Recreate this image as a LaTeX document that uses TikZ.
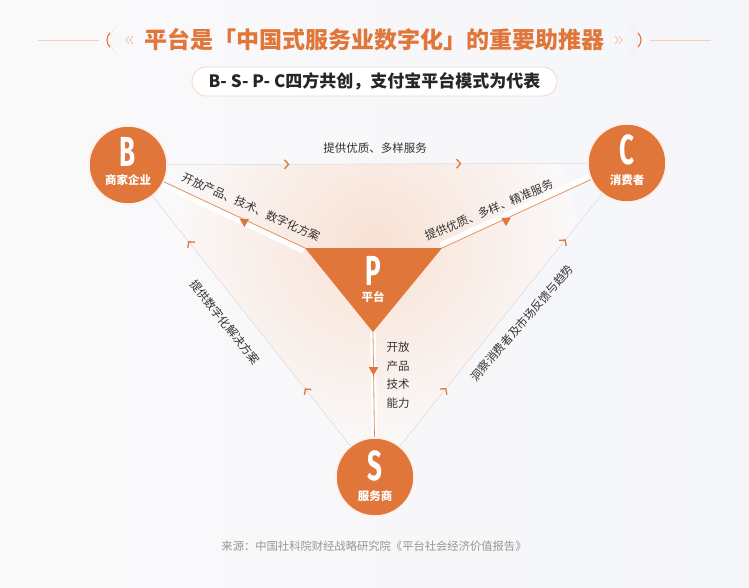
\documentclass[tikz,border=0pt]{standalone}
\usepackage{fontspec}
\setmainfont{Noto Sans CJK SC}
\newfontfamily\letterfont[FakeStretch=0.62]{Fira Sans}
\usetikzlibrary{shapes.geometric,decorations.markings,arrows.meta}
\pgfdeclarelayer{back}
\pgfsetlayers{back,main}
\definecolor{accent}{RGB}{224,118,58}
\definecolor{inktext}{RGB}{51,51,51}
\definecolor{srcgray}{RGB}{150,150,150}
\definecolor{thinline}{RGB}{226,223,224}
\definecolor{bgleft}{RGB}{250,249,250}
\definecolor{bgright}{RGB}{245,246,250}
\tikzset{
  chevtip/.tip={Straight Barb[length=4pt,width=9pt,line width=1.3pt,color=accent]},
  party/.style={circle, fill=accent, draw=accent!12, line width=1.5pt, minimum size=78pt, inner sep=0pt},
  letter/.style={text=white, font=\letterfont\bfseries\fontsize{42}{42}\selectfont, inner sep=0pt},
  role/.style={text=white, font=\bfseries\fontsize{11.5}{12}\selectfont, inner sep=0pt},
  lbl/.style={text=inktext, font=\fontsize{11.5}{13}\selectfont, inner sep=1pt},
  title/.style={text=accent, font=\bfseries\fontsize{23}{23}\selectfont, inner sep=0pt},
  subbox/.style={draw=accent!30, fill=white, line width=0.8pt, rounded corners=14.5pt,
    minimum width=365pt, minimum height=29pt, text=black!85, font=\bfseries\fontsize{17}{17}\selectfont},
  src/.style={text=srcgray, font=\fontsize{11.3}{12}\selectfont, inner sep=0pt},
  deco/.style={draw=accent!35, line width=0.6pt},
  thin/.style={draw=thinline, line width=0.7pt},
  band/.style={draw=white, line width=5.5pt},
  flow/.style={draw=accent!80, line width=0.8pt},
  tip/.style={regular polygon, regular polygon sides=3, shape border rotate=180,
    fill=accent, inner sep=0pt, minimum size=11pt},
  fwdchev/.style={postaction={decorate}, decoration={markings,
    mark=at position 0.29 with {\arrow{chevtip}},
    mark=at position 0.70 with {\arrow{chevtip}}}},
  backchev/.style={postaction={decorate}, decoration={markings,
    mark=at position 0.18 with {\arrowreversed{chevtip}},
    mark=at position 0.77 with {\arrowreversed{chevtip}}}}
}
\begin{document}
\begin{tikzpicture}[x=1pt,y=-1pt]
\useasboundingbox (0,0) rectangle (749,588);

% heading
\node[title] (head) at (374,40) {平台是「中国式服务业数字化」的重要助推器};
\draw[deco] (38,40) -- (99,40);
\draw[deco] (650,40) -- (711,40);
\draw[accent!15, line width=0.8pt] (118,25) .. controls (108,33) and (108,47) .. (118,55);
\draw[accent!15, line width=0.8pt] (630,25) .. controls (640,33) and (640,47) .. (630,55);
\draw[accent, line width=1.1pt] (110,33) .. controls (106,37) and (106,43) .. (110,47);
\draw[accent, line width=1.1pt] (638,33) .. controls (642,37) and (642,43) .. (638,47);
\draw[accent!45, line width=0.8pt] (129,36) -- (126,40) -- (129,44);
\draw[accent!45, line width=0.8pt] (133,36) -- (130,40) -- (133,44);
\draw[accent!45, line width=0.8pt] (615,36) -- (618,40) -- (615,44);
\draw[accent!45, line width=0.8pt] (619,36) -- (622,40) -- (619,44);
\node[subbox] (sub) at (374.5,81.5) {B- S- P- C四方共创，支付宝平台模式为代表};

% the four parties
\node[party] (B) at (128,165) {};
\node[party] (C) at (627,163) {};
\node[party] (S) at (375,477) {};
\node[letter] (Bl) at (128,152) {B};
\node[role] (Bt) at (128,180) {商家企业};
\node[letter] (Cl) at (627,150) {C};
\node[role] (Ct) at (627,180) {消费者};
\node[letter] (Sl) at (375,466) {S};
\node[role] (St) at (375,496) {服务商};
\coordinate (pl) at (305,248);
\coordinate (pr) at (442,248);
\coordinate (pa) at (373,332);
\fill[accent] (pl) -- (pr) -- (pa) -- cycle;
\node[letter] (Pl) at (373,271) {P};
\node[role] (Pt) at (373,297) {平台};

% connectors
\begin{pgfonlayer}{back}
\shade[left color=bgleft, right color=bgright] (0,0) rectangle (749,588);
\begin{scope}
\clip (B.center) -- (C.center) -- (S.center) -- cycle;
\shade[inner color=accent!22!white, outer color=bgleft] (373,245) circle (205);
\end{scope}
\draw[thin, fwdchev] (B) -- (C);
\draw[thin, backchev] (B) -- (S);
\draw[thin, backchev] (C) -- (S);
\draw[band, transform canvas={shift={(-1.3pt,-2.9pt)}}] (B) -- (pl);
\draw[band, transform canvas={shift={(-1.3pt,2.9pt)}}] (pr) -- (C);
\draw[band] (pa) -- (S);
\draw[flow] (B) -- node[tip, pos=0.57, yshift=-2pt] (tb) {} (pl);
\draw[flow] (pr) -- node[tip, pos=0.43, yshift=-2pt] (tc) {} (C);
\draw[flow] (pa) -- node[tip, pos=0.36] (ts) {} (S);
\end{pgfonlayer}

% labels
\node[lbl] (lbc) at (375,148) {提供优质、多样服务};
\node[lbl, rotate=-24] (lbp) at (251,207) {开放产品、技术、数字化方案};
\node[lbl, rotate=23] (lpc) at (489,210) {提供优质、多样、精准服务};
\node[lbl, rotate=-51] (lbs) at (225,322) {提供数字化解决方案};
\node[lbl, rotate=49] (lcs) at (522,323) {洞察消费者及市场反馈与趋势};
\node[lbl, align=center, font=\fontsize{11.5}{18.7}\selectfont] (lps) at (398,375) {开放\\产品\\技术\\能力};
\node[src] (note) at (374,546) {来源：中国社科院财经战略研究院《平台社会经济价值报告》};
\end{tikzpicture}
\end{document}
